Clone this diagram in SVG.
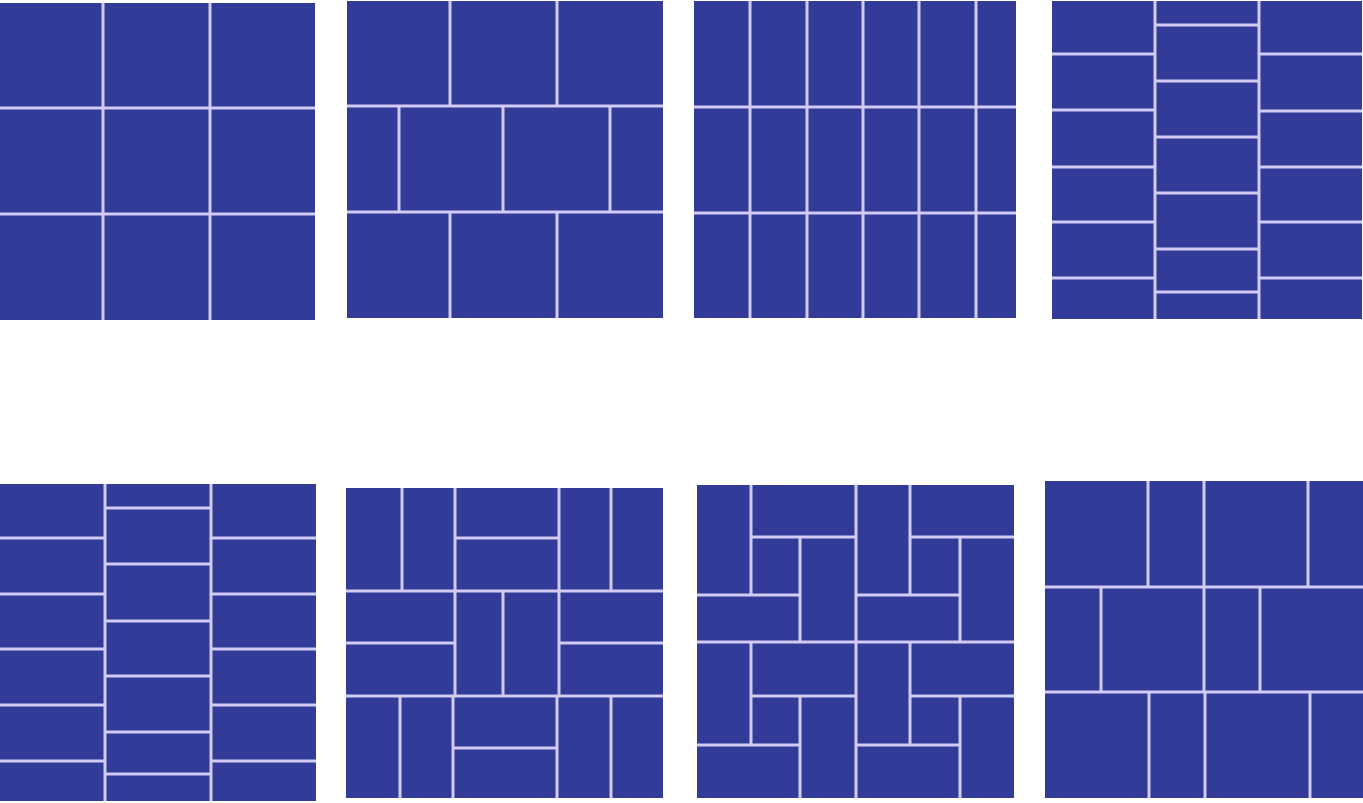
<svg xmlns="http://www.w3.org/2000/svg" width="1363" height="803" viewBox="0 0 1363 803">
<style>
.tile{fill:#333b98}
.j{stroke:#d2cbf4;stroke-width:3;fill:none;stroke-linecap:butt}
</style>
<rect width="1363" height="803" fill="#ffffff"/>
<g id="panel1">
<rect class="tile" x="0" y="3" width="315" height="317"/>
<path class="j" d="M103 3V320M210 3V320M0 108H315M0 214H315"/>
</g>
<g id="panel2">
<rect class="tile" x="347" y="1" width="316" height="317"/>
<path class="j" d="M347 106H663M347 212H663M450 1V106M557 1V106M399 106V212M503 106V212M610 106V212M450 212V318M557 212V318"/>
</g>
<g id="panel3">
<rect class="tile" x="694" y="1" width="322" height="317"/>
<path class="j" d="M750 1V318M807 1V318M863 1V318M919 1V318M976 1V318M694 107H1016M694 213H1016"/>
</g>
<g id="panel4">
<rect class="tile" x="1052" y="1" width="310" height="318"/>
<path class="j" d="M1155 1V319M1259 1V319M1052 54H1155M1052 110H1155M1052 167H1155M1052 222H1155M1052 278H1155M1155 25H1259M1155 81H1259M1155 137H1259M1155 193H1259M1155 249H1259M1155 292H1259M1259 54H1362M1259 111H1362M1259 167H1362M1259 222H1362M1259 278H1362"/>
</g>
<g id="panel5">
<rect class="tile" x="0" y="484" width="316" height="317"/>
<path class="j" d="M105 484V801M211 484V801M0 538H105M0 594H105M0 649H105M0 705H105M0 761H105M105 508H211M105 564H211M105 621H211M105 676H211M105 732H211M105 774H211M211 538H316M211 594H316M211 649H316M211 705H316M211 761H316"/>
</g>
<g id="panel6">
<rect class="tile" x="346" y="488" width="317" height="310"/>
<path class="j" d="M346 591H663M346 696H663M455 488V696M559 488V696M453 696V798M557 696V798M402 488V591M455 538H559M611 488V591M346 643H455M503 591V696M559 643H663M400 696V798M453 748H557M611 696V798"/>
</g>
<g id="panel7">
<rect class="tile" x="697" y="485" width="317" height="313"/>
<path class="j" d="M856 485V798M697 642H1014M751 485V595M751 537H856M800 537V642M697 595H800M910 485V595M910 537H1014M960 537V642M856 595H960M751 642V745M751 696H856M800 696V798M697 745H800M910 642V745M910 696H1014M960 696V798M856 745H960"/>
</g>
<g id="panel8">
<rect class="tile" x="1045" y="481" width="318" height="317"/>
<path class="j" d="M1045 587H1363M1045 692H1363M1148 481V587M1204 481V587M1308 481V587M1101 587V692M1204 587V692M1260 587V692M1149 692V798M1205 692V798M1310 692V798"/>
</g>
</svg>
